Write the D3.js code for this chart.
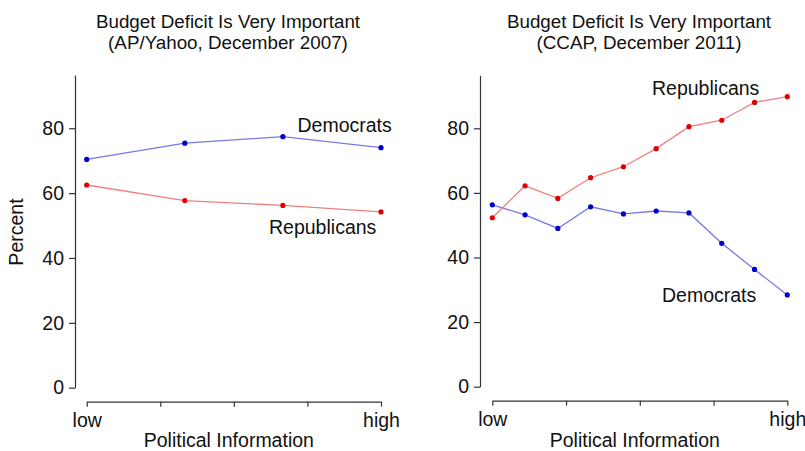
<!DOCTYPE html>
<html>
<head>
<meta charset="utf-8">
<script src="https://cdn.jsdelivr.net/npm/d3@7"></script>
<style>
  html, body { margin: 0; padding: 0; background: #fff; }
  svg text { font-family: "Liberation Sans", Arial, sans-serif; fill: #111; }
</style>
</head>
<body>
<svg id="chart" width="805" height="451"></svg>
<script>
// Share of each party rating the budget deficit "very important",
// by level of political information (low -> high).
const yTicks = [0, 20, 40, 60, 80];
const xTickLabels = ["low", "", "", "", "high"];

const titles2007 = ["Budget Deficit Is Very Important", "(AP/Yahoo, December 2007)"];
const dem2007 = [70.4, 75.4, 77.4, 74.0];
const rep2007 = [62.5, 57.7, 56.2, 54.2];

const titles2011 = ["Budget Deficit Is Very Important", "(CCAP, December 2011)"];
const dem2011 = [56.3, 53.2, 49.0, 55.7, 53.5, 54.4, 53.8, 44.4, 36.3, 28.4];
const rep2011 = [52.3, 62.2, 58.3, 64.7, 68.1, 73.7, 80.5, 82.5, 88.0, 89.8];

const demLine = "#7878e6", demDot = "#0000cc";
const repLine = "#f08080", repDot = "#dd0000";

const svg = d3.select("#chart");

function drawPanel(opt) {
  const g = svg.append("g");
  const x = d3.scaleLinear().domain([0, 1]).range(opt.xRange);
  const y = d3.scaleLinear().domain([0, 96.4]).range([opt.y0, opt.y0 - 96.4 * opt.pxPerUnit]);

  // titles
  g.selectAll("text.title").data(opt.titles).join("text")
    .attr("class", "title")
    .attr("x", opt.titleX)
    .attr("y", (d, i) => 28 + i * 21)
    .attr("text-anchor", "middle")
    .attr("font-size", 18.8)
    .text(d => d);

  // y axis
  const yAxis = d3.axisLeft(y).tickValues(yTicks).tickSize(6).tickPadding(5).tickSizeOuter(0);
  const ya = g.append("g").attr("transform", `translate(${opt.yAxisX},0)`).call(yAxis);
  ya.selectAll("text").attr("font-size", 19.5).style("fill", "#111");
  ya.selectAll("line, path").attr("stroke", "#333").attr("stroke-width", 1.2);

  // x axis
  const xAxis = d3.axisBottom(x)
    .tickValues([0, 0.25, 0.5, 0.75, 1])
    .tickFormat((d, i) => xTickLabels[i])
    .tickSize(5).tickPadding(6).tickSizeOuter(0);
  const xa = g.append("g").attr("transform", `translate(0,${opt.xAxisY})`).call(xAxis);
  xa.selectAll("text").attr("font-size", 19.5).style("fill", "#111");
  xa.selectAll("line, path").attr("stroke", "#333").attr("stroke-width", 1.2);

  g.append("text")
    .attr("x", (opt.xRange[0] + opt.xRange[1]) / 2 - 5)
    .attr("y", 447)
    .attr("text-anchor", "middle")
    .attr("font-size", 19.5)
    .text("Political Information");

  if (opt.yLabel) {
    g.append("text")
      .attr("transform", `translate(23,${y(48)}) rotate(-90)`)
      .attr("text-anchor", "middle")
      .attr("font-size", 19.5)
      .text(opt.yLabel);
  }

  const series = [
    { vals: opt.dem, line: demLine, dot: demDot },
    { vals: opt.rep, line: repLine, dot: repDot }
  ];
  series.forEach(s => {
    const n = s.vals.length;
    const pts = s.vals.map((v, i) => [x(i / (n - 1)), y(v)]);
    g.append("path")
      .attr("d", d3.line()(pts))
      .attr("fill", "none")
      .attr("stroke", s.line)
      .attr("stroke-width", 1.3);
    g.selectAll(null).data(pts).join("circle")
      .attr("cx", d => d[0]).attr("cy", d => d[1])
      .attr("r", 2.6)
      .attr("fill", s.dot);
  });

  opt.labels.forEach(l => {
    g.append("text")
      .attr("x", l.x).attr("y", l.y)
      .attr("font-size", 19.5)
      .text(l.text);
  });
}

drawPanel({
  titles: titles2007, titleX: 228,
  xRange: [86.7, 381], y0: 387.7, pxPerUnit: 3.243,
  yAxisX: 75, xAxisY: 401.7,
  dem: dem2007, rep: rep2007,
  yLabel: "Percent",
  labels: [
    { text: "Democrats", x: 297.5, y: 131.5 },
    { text: "Republicans", x: 269, y: 233.5 }
  ]
});

drawPanel({
  titles: titles2011, titleX: 639,
  xRange: [492.3, 787.3], y0: 386.7, pxPerUnit: 3.23,
  yAxisX: 480, xAxisY: 400.7,
  dem: dem2011, rep: rep2011,
  labels: [
    { text: "Republicans", x: 652, y: 95 },
    { text: "Democrats", x: 662, y: 302 }
  ]
});
</script>
</body>
</html>
